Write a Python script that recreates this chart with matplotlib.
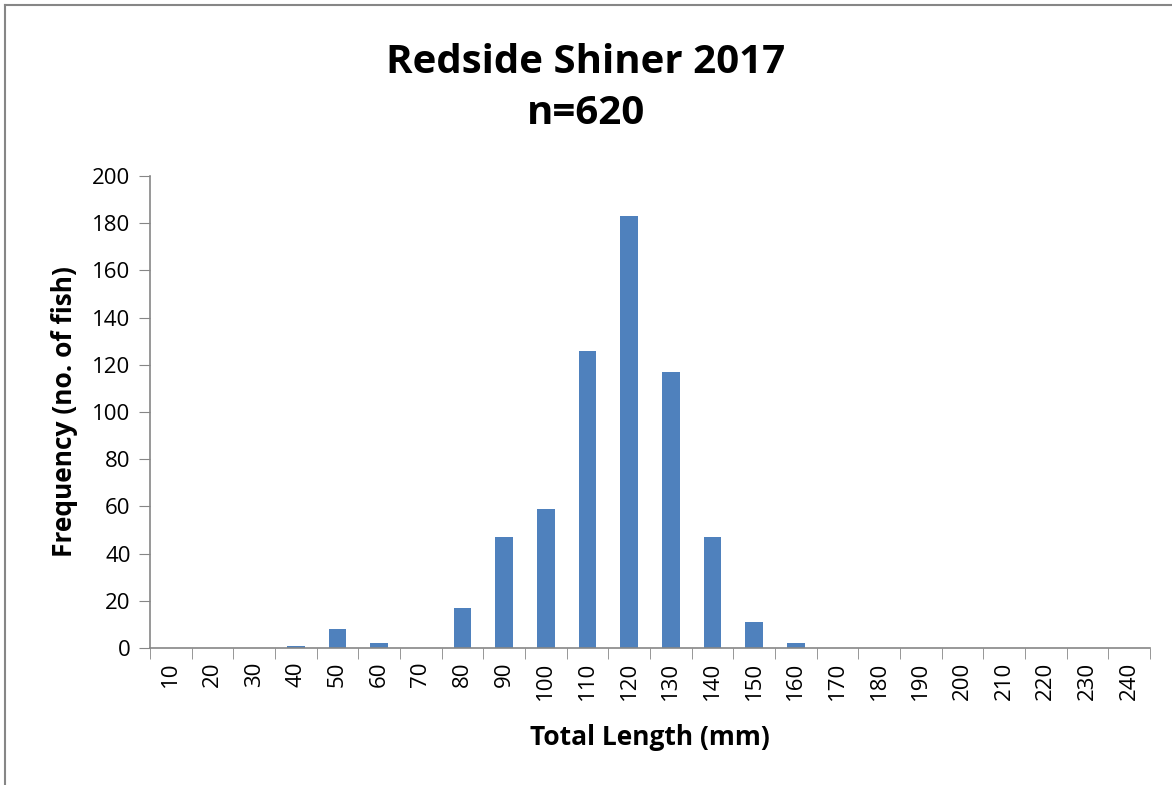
import numpy as np
import matplotlib.pyplot as plt
from matplotlib.lines import Line2D

plt.rcParams["font.family"] = ["Open Sans", "DejaVu Sans"]

lengths = [10, 20, 30, 40, 50, 60, 70, 80, 90, 100, 110, 120,
           130, 140, 150, 160, 170, 180, 190, 200, 210, 220, 230, 240]
counts = [0, 0, 0, 1, 8, 2, 0, 17, 47, 59, 126, 183,
          117, 47, 11, 2, 0, 0, 0, 0, 0, 0, 0, 0]
title = "Redside Shiner 2017\nn=620"

fig = plt.figure(figsize=(11.72, 7.85), dpi=100)
ax = fig.add_axes([150 / 1172, 1 - 648 / 785, 1000 / 1172, 472 / 785])

x = np.arange(len(lengths))
ax.bar(x, counts, width=0.42, color="#4F81BD")

ax.set_xlim(-0.5, len(lengths) - 0.5)
ax.set_ylim(0, 200)
ax.set_yticks(range(0, 201, 20))
ax.set_xticks(x)
ax.set_xticklabels([str(v) for v in lengths], rotation=90, fontsize=16)
ax.set_xticks(np.arange(len(lengths) + 1) - 0.5, minor=True)
ax.tick_params(axis="x", which="major", length=0, pad=10)
ax.tick_params(axis="x", which="minor", length=8, color="#868686", direction="out")
ax.tick_params(axis="y", length=8, color="#868686", labelsize=16, pad=6)

for side in ["top", "right"]:
    ax.spines[side].set_visible(False)
for side in ["left", "bottom"]:
    ax.spines[side].set_color("#868686")
    ax.spines[side].set_linewidth(1.2)

ax.set_xlabel("Total Length (mm)", fontsize=19, fontweight="bold", labelpad=17)
ax.set_ylabel("Frequency (no. of fish)", fontsize=19, fontweight="bold", labelpad=10)
fig.suptitle(title, y=0.945, fontsize=29, fontweight="bold", linespacing=1.4)

# chart-area border (cut off on right and bottom)
fig.add_artist(Line2D([5 / 1172, 5 / 1172], [0, 1 - 5 / 785], transform=fig.transFigure,
                      color="#868686", lw=1.5))
fig.add_artist(Line2D([5 / 1172, 1], [1 - 5 / 785, 1 - 5 / 785], transform=fig.transFigure,
                      color="#868686", lw=1.5))

fig.savefig("out.png", dpi=100)
